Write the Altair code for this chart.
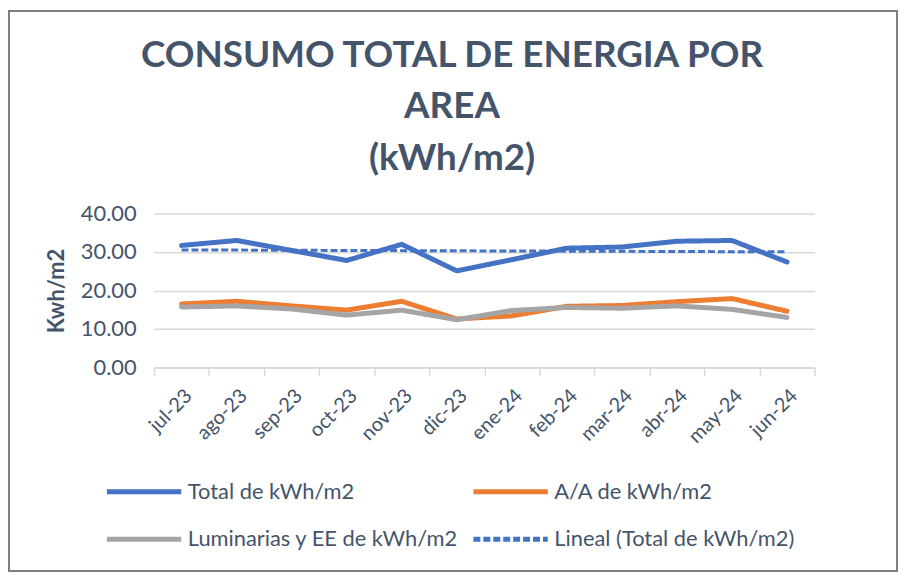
import json
import altair as alt
import pandas as pd

months = ["jul-23", "ago-23", "sep-23", "oct-23", "nov-23", "dic-23",
          "ene-24", "feb-24", "mar-24", "abr-24", "may-24", "jun-24"]
total = [31.7, 33.0, 30.4, 27.8, 32.0, 25.1, 28.0, 31.0, 31.3, 32.8, 33.0, 27.4]
aa = [16.5, 17.2, 16.0, 14.9, 17.2, 12.6, 13.4, 15.9, 16.1, 17.1, 17.9, 14.6]
lum = [15.7, 16.0, 15.2, 13.6, 14.9, 12.4, 14.8, 15.6, 15.4, 16.0, 15.1, 13.0]

series_names = ["Total de kWh/m2", "A/A de kWh/m2",
                "Luminarias y EE de kWh/m2", "Lineal (Total de kWh/m2)"]
colors = ["#4472C4", "#ED7D31", "#A5A5A5", "#4472C4"]
dashes = [[1, 0], [1, 0], [1, 0], [7, 3]]
title_lines = ["CONSUMO TOTAL DE ENERGIA POR", "AREA", "(kWh/m2)"]

rows = []
for name, vals in zip(series_names[:3], [total, aa, lum]):
    for i, (m, v) in enumerate(zip(months, vals)):
        rows.append({"month": m, "idx": i, "series": name, "value": v})
df = pd.DataFrame(rows)

TXT = "#44546A"
FONT = "Lato"

color_scale = alt.Scale(domain=series_names, range=colors)
dash_scale = alt.Scale(domain=series_names, range=dashes)

legend = alt.Legend(
    title=None, orient="none", legendX=-50, legendY=268, columns=2,
    direction="horizontal", gridAlign="all", columnPadding=12, rowPadding=24,
    clipHeight=24,
    symbolType="stroke", symbolSize=5600, symbolStrokeWidth=5,
    labelFontSize=22, labelColor=TXT, labelFont=FONT, labelLimit=400,
    labelOffset=4,
)

x_axis = alt.Axis(labelAngle=-45, labelFontSize=20, labelColor=TXT,
                  labelFont=FONT, tickBand="extent", tickSize=8,
                  tickColor="#D9D9D9", tickWidth=1.5,
                  domainColor="#D9D9D9", domainWidth=1.5,
                  labelPadding=10, grid=False, labelOverlap=False)
x_enc = alt.X("month:N", sort=months, title=None,
              scale=alt.Scale(type="band", paddingInner=0, paddingOuter=0),
              axis=x_axis)

y_axis = alt.Axis(values=[0, 10, 20, 30, 40], format=".2f",
                  labelFontSize=22, labelColor=TXT, labelFont=FONT,
                  labelPadding=18, domain=False, ticks=False,
                  labelOverlap=False, grid=True,
                  gridColor="#D9D9D9", gridWidth=1.5,
                  titleFontSize=22, titleColor=TXT, titleFont=FONT,
                  titleFontWeight="bold", titlePadding=12)
y_scale = alt.Scale(domain=[0, 40], nice=False, zero=True)
y_enc = alt.Y("value:Q", title="Kwh/m2", scale=y_scale, axis=y_axis)

lines = alt.Chart(df).mark_line(strokeWidth=5, strokeCap="round",
                                strokeJoin="round").encode(
    x=x_enc, y=y_enc,
    color=alt.Color("series:N", scale=color_scale, legend=legend),
    strokeDash=alt.StrokeDash("series:N", scale=dash_scale, legend=legend),
    detail="series:N",
)

month_expr = json.dumps(months) + "[datum.idx]"
trend = alt.Chart(df).transform_filter(
    alt.datum.series == series_names[0]
).transform_regression("idx", "value", method="linear").transform_calculate(
    month=month_expr, series=json.dumps(series_names[3])
).mark_line(strokeWidth=3).encode(
    x=x_enc, y=y_enc,
    color=alt.Color("series:N", scale=color_scale, legend=legend),
    strokeDash=alt.StrokeDash("series:N", scale=dash_scale, legend=legend),
)

one = pd.DataFrame({"a": [0]})
border = alt.Chart(one).mark_rect(
    fill=None, stroke="#7F7F7F", strokeWidth=2, clip=False
).encode(x=alt.value(-146), x2=alt.value(748),
         y=alt.value(-204), y2=alt.value(360))

title = alt.Chart(one).mark_text(
    font=FONT, fontSize=37, fontWeight="bold", color=TXT,
    align="center", baseline="alphabetic", lineHeight=52, lineBreak="\n",
).encode(x=alt.value(300), y=alt.value(-148),
         text=alt.value("\n".join(title_lines)))

chart = alt.layer(border, title, lines, trend).properties(
    width=665, height=155,
    background="white",
    autosize="none",
    padding={"left": 147, "right": 84, "top": 205, "bottom": 206},
).configure_view(stroke=None)

chart.save("out.html", embed_options={"renderer": "svg", "actions": False})
